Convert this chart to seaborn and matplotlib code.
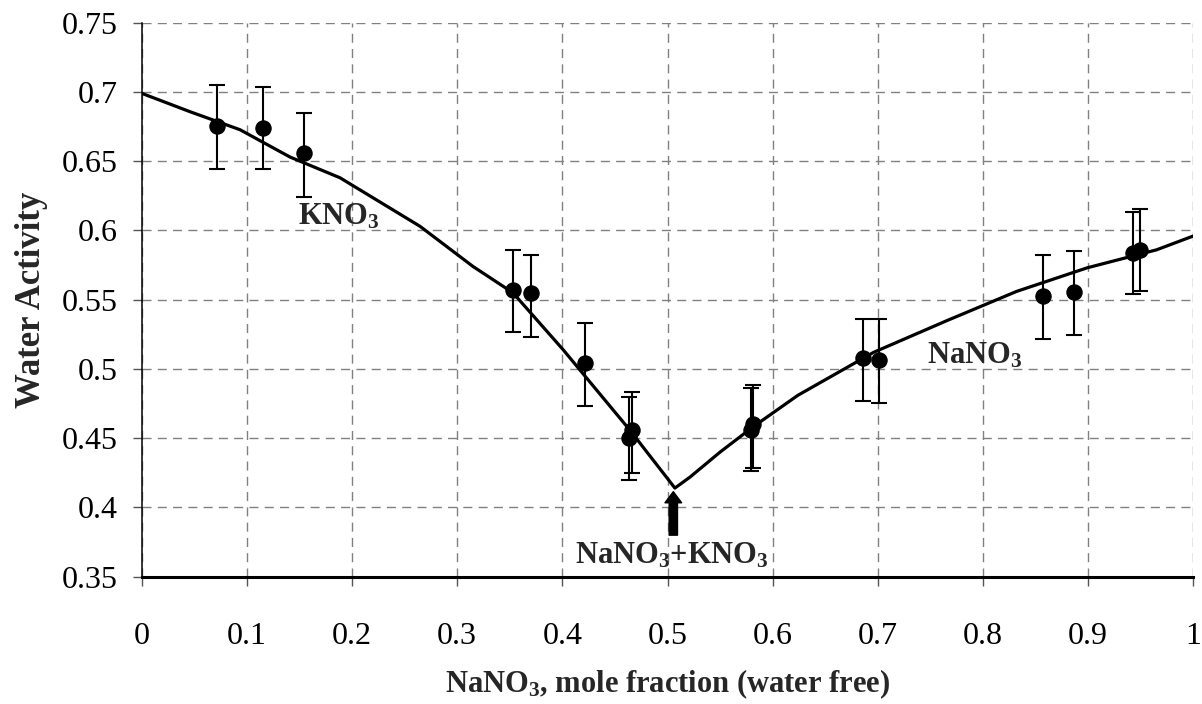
import numpy as np
import pandas as pd
import matplotlib
matplotlib.use('Agg')
import matplotlib.pyplot as plt
import seaborn as sns

# fitted curve
curve_x = [0.0, 0.046, 0.0935, 0.141, 0.1886, 0.2646, 0.315, 0.353, 0.4006,
           0.464, 0.507, 0.5215, 0.55, 0.581, 0.624, 0.696, 0.766, 0.832,
           0.899, 0.965, 1.0]
curve_y = [0.699, 0.6857, 0.6727, 0.653, 0.638, 0.603, 0.574, 0.555, 0.514,
           0.456, 0.414, 0.422, 0.440, 0.458, 0.481, 0.512, 0.535, 0.556,
           0.573, 0.586, 0.596]

# measured points with error bars
pt_x = [0.0719, 0.1151, 0.1546, 0.3528, 0.3702, 0.4215, 0.4637, 0.466,
        0.579, 0.581, 0.6861, 0.7013, 0.8566, 0.8863, 0.943, 0.949]
pt_y = [0.6756, 0.6742, 0.6557, 0.557, 0.5546, 0.5045, 0.450, 0.456,
        0.456, 0.460, 0.5081, 0.5065, 0.553, 0.5558, 0.5837, 0.586]
err_lo = [0.6444, 0.6444, 0.6244, 0.5265, 0.5233, 0.4735, 0.4198, 0.4251,
          0.4266, 0.4283, 0.4768, 0.4754, 0.5217, 0.5245, 0.554, 0.5565]
err_hi = [0.705, 0.7033, 0.6846, 0.586, 0.5823, 0.5334, 0.480, 0.4836,
          0.486, 0.4884, 0.536, 0.536, 0.5823, 0.5852, 0.613, 0.6155]

x_ticks = [0, 0.1, 0.2, 0.3, 0.4, 0.5, 0.6, 0.7, 0.8, 0.9, 1]
x_tick_labels = ['0', '0.1', '0.2', '0.3', '0.4', '0.5', '0.6', '0.7', '0.8', '0.9', '1']
y_ticks = [0.35, 0.4, 0.45, 0.5, 0.55, 0.6, 0.65, 0.7, 0.75]
y_tick_labels = ['0.35', '0.4', '0.45', '0.5', '0.55', '0.6', '0.65', '0.7', '0.75']

sns.set_theme(style='white')
plt.rcParams['font.family'] = ['Liberation Serif', 'DejaVu Serif']
plt.rcParams['mathtext.fontset'] = 'custom'
plt.rcParams['mathtext.rm'] = 'Liberation Serif'
plt.rcParams['mathtext.bf'] = 'Liberation Serif:bold'

curve = pd.DataFrame({'x': curve_x, 'y': curve_y})
pts = pd.DataFrame({'x': pt_x, 'y': pt_y})

fig = plt.figure(figsize=(12.02, 7.04), dpi=100)
ax = fig.add_axes([0.1179, 0.1808, 0.8749, 0.787])

ax.set_xlim(0, 1)
ax.set_ylim(0.35, 0.75)
ax.set_xticks(x_ticks)
ax.set_xticklabels(x_tick_labels)
ax.set_yticks(y_ticks)
ax.set_yticklabels(y_tick_labels)
ax.grid(True, color='#808080', linewidth=1.0, linestyle=(0, (6.5, 4.5)))
ax.set_axisbelow(True)

yerr = [np.array(pt_y) - np.array(err_lo), np.array(err_hi) - np.array(pt_y)]
ax.errorbar(pt_x, pt_y, yerr=yerr, fmt='none', ecolor='black',
            elinewidth=1.5, capsize=6, capthick=1.5, zorder=3)
sns.lineplot(data=curve, x='x', y='y', color='black', linewidth=2.3,
             ax=ax, zorder=4)
sns.scatterplot(data=pts, x='x', y='y', color='black', s=120,
                edgecolor='black', ax=ax, zorder=5)

ax.text(0.149, 0.6045, r'$\mathbf{KNO_3}$', fontsize=22)
ax.text(0.7467, 0.5036, r'$\mathbf{NaNO_3}$', fontsize=22)
ax.text(0.412, 0.3597, r'$\mathbf{NaNO_3}$+$\mathbf{KNO_3}$',
        fontsize=22, fontweight='bold')
ax.annotate('', xy=(0.5055, 0.4114), xytext=(0.5055, 0.380),
            arrowprops=dict(arrowstyle='simple,head_length=0.8,head_width=1.2,tail_width=0.6',
                            color='black', shrinkA=0, shrinkB=0, mutation_scale=10))

for s in ['top', 'right']:
    ax.spines[s].set_visible(False)
ax.spines['left'].set_color('black')
ax.spines['left'].set_linewidth(1.1)
ax.spines['bottom'].set_color('black')
ax.spines['bottom'].set_linewidth(2.2)

ax.tick_params(axis='both', direction='out', length=6.5, width=1.0,
               color='#555555', labelsize=23, labelcolor='black')
ax.tick_params(axis='x', pad=26)
ax.tick_params(axis='y', pad=11)
ax.tick_params(bottom=True, left=True)

ax.set_xlabel(r'$\mathbf{NaNO_3}$, mole fraction (water free)',
              fontsize=22, fontweight='bold', labelpad=12)
ax.set_ylabel('Water Activity', fontsize=25, fontweight='bold', labelpad=10)

fig.savefig('out.png', dpi=100)
